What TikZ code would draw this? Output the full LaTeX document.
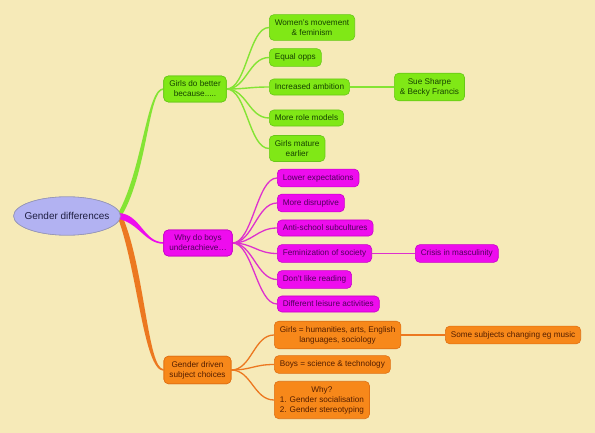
\documentclass[tikz,border=0pt]{standalone}
\usepackage{fontspec}
\setmainfont{Liberation Sans}
\usetikzlibrary{calc,shapes.geometric}
\definecolor{bg}{RGB}{246,234,184}
\definecolor{gfill}{RGB}{128,232,22}
\definecolor{gdraw}{RGB}{104,200,24}
\definecolor{gtext}{RGB}{22,66,0}
\definecolor{gline}{RGB}{132,228,52}
\definecolor{mfill}{RGB}{238,12,238}
\definecolor{mdraw}{RGB}{200,0,200}
\definecolor{mtext}{RGB}{80,0,92}
\definecolor{mline}{RGB}{222,48,206}
\definecolor{ofill}{RGB}{247,136,26}
\definecolor{odraw}{RGB}{222,112,20}
\definecolor{otext}{RGB}{84,30,0}
\definecolor{oline}{RGB}{236,120,32}
\definecolor{rfill}{RGB}{178,178,242}
\definecolor{rdraw}{RGB}{150,150,180}
\definecolor{rtext}{RGB}{30,30,66}
\tikzset{
  box/.style={rounded corners=4.5pt, line width=0.6pt, align=center,
    inner xsep=5.5pt, inner ysep=5pt,
    font=\fontsize{8.2}{9.9}\selectfont},
  gbox/.style={box, fill=gfill, draw=gdraw, text=gtext},
  mbox/.style={box, fill=mfill, draw=mdraw, text=mtext},
  obox/.style={box, fill=ofill, draw=odraw, text=otext},
  rootbox/.style={ellipse, fill=rfill, draw=rdraw, line width=0.6pt,
    inner xsep=-4.7pt, inner ysep=9.9pt, text=rtext, font=\fontsize{10}{12}\selectfont},
  gl/.style={draw=gline, line width=1.4pt},
  ml/.style={draw=mline, line width=1.3pt},
  ol/.style={draw=oline, line width=1.3pt},
}
\begin{document}
\begin{tikzpicture}[x=1pt,y=-1pt]
\fill[bg] (0,0) rectangle (595,433);
\useasboundingbox (0,0) rectangle (595,433);

% hubs
\node[gbox] (g) at (195,89) {Girls do better\\because.....};
\node[mbox] (m) at (198,243) {Why do boys\\underachieve…};
\node[obox] (o) at (197.5,370) {Gender driven\\subject choices};

% green children
\node[gbox, anchor=west] (g1) at (269,27.5) {Women's movement\\\& feminism};
\node[gbox, anchor=west] (g2) at (269,57.5) {Equal opps};
\node[gbox, anchor=west] (g3) at (269,87) {Increased ambition};
\node[gbox, anchor=west] (g4) at (269,118) {More role models};
\node[gbox, anchor=west] (g5) at (269,148.5) {Girls mature\\earlier};
\node[gbox, anchor=west] (gs) at (394,87) {Sue Sharpe\\\& Becky Francis};

% magenta children
\node[mbox, anchor=west] (m1) at (277,178) {Lower expectations};
\node[mbox, anchor=west] (m2) at (277,203) {More disruptive};
\node[mbox, anchor=west] (m3) at (277,228) {Anti-school subcultures};
\node[mbox, anchor=west] (m4) at (277,253.5) {Feminization of society};
\node[mbox, anchor=west] (m5) at (277,279.5) {Don't like reading};
\node[mbox, anchor=west] (m6) at (277,304) {Different leisure activities};
\node[mbox, anchor=west] (mc) at (415,253.5) {Crisis in masculinity};

% orange children
\node[obox, anchor=west] (o1) at (274,335) {Girls = humanities, arts, English\\languages, sociology};
\node[obox, anchor=west] (o2) at (274,364.5) {Boys = science \& technology};
\node[obox, anchor=west] (o3) at (274,400) {Why?\\1. Gender socialisation\\2. Gender stereotyping};
\node[obox, anchor=west] (os) at (445,335) {Some subjects changing eg music};

% root
\node[rootbox] (root) at (67,216) {Gender differences};

% tapered main branches
\fill[gline] ($(root.east)+(-3,-2)$) .. controls +(25,-44) and +(-17,0) .. ($(g.west)+(0,-0.8)$)
  -- ($(g.west)+(0,0.8)$) .. controls +(-15,0) and +(25,-44) .. ($(root.east)+(2,-2)$) -- cycle;
\fill[oline] ($(root.east)+(-3,1)$) .. controls +(20,54) and +(-20,0) .. ($(o.west)+(0,0.8)$)
  -- ($(o.west)+(0,-0.8)$) .. controls +(-16,0) and +(22,52) .. ($(root.east)+(2,1)$) -- cycle;
\fill[mfill] ($(root.east)+(-2,-3)$) .. controls +(22,1) and +(-20,0) .. ($(m.west)+(0,-0.8)$)
  -- ($(m.west)+(0,0.8)$) .. controls +(-18,0) and +(20,4) .. ($(root.east)+(-2,3)$) -- cycle;

% child connectors
\foreach \c in {g1,g2,g3,g4,g5}
  \draw[gl] (g.east) .. controls +(20,0) and +(-20,0) .. (\c.west);
\draw[gl] (g3.east) -- (gs.west);
\foreach \c in {m1,m2,m3,m4,m5,m6}
  \draw[ml] (m.east) .. controls +(20,0) and +(-20,0) .. (\c.west);
\draw[ml] (m4.east) -- (mc.west);
\foreach \c in {o1,o2,o3}
  \draw[ol] (o.east) .. controls +(20,0) and +(-20,0) .. (\c.west);
\draw[ol] (o1.east) -- (os.west);

% redraw nodes above lines
\node[gbox] at (g) {Girls do better\\because.....};
\node[mbox] at (m) {Why do boys\\underachieve…};
\node[obox] at (o) {Gender driven\\subject choices};
\node[rootbox] at (root) {Gender differences};
\end{tikzpicture}
\end{document}
